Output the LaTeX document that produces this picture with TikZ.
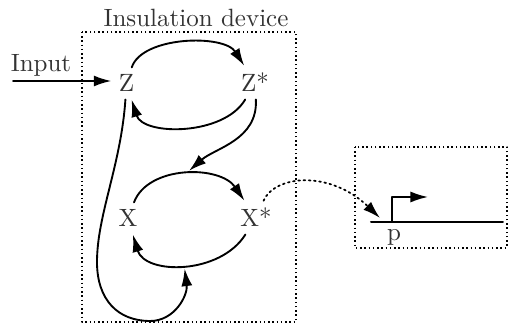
\documentclass[tikz,border=0pt]{standalone}
\usepackage{tikz}
\usetikzlibrary{arrows.meta,positioning}
\definecolor{ink}{HTML}{333333}
\tikzset{
    every picture/.style={line cap=round,line join=round},
    species/.style={text=ink,inner sep=2.5pt,outer sep=0.5pt},
    tag/.style={text=ink,inner sep=0pt},
    flowarrow/.style={-{Latex[length=7pt,width=4.4pt]},draw=black,line width=0.75pt},
    regionbox/.style={draw=black,line width=0.6pt,dash pattern=on 0.6pt off 1.1pt,line cap=butt},
    linkarrow/.style={-{Latex[length=7pt,width=4.4pt]},draw=black,line width=0.7pt,
      dash pattern=on 0.7pt off 1.4pt}
}
\begin{document}
\begin{tikzpicture}[x=0.4pt,y=-0.4pt]
  \useasboundingbox (0,0) rectangle (509,325);
  % boxes
  \draw[regionbox] (82,32) rectangle (296,322);
  \draw[regionbox] (355,147) rectangle (507,248);
  \node[tag,anchor=base] (title) at (196,27) {Insulation device};
  % species
  \node[species,anchor=base] (Z) at (126.5,92) {Z};
  \node[species,anchor=base] (Zs) at (255,92) {Z*};
  \node[species,anchor=base] (X) at (128,227) {X};
  \node[species,anchor=base] (Xs) at (256,227) {X*};
  % input
  \node[tag,anchor=base] (input) at (41,72) {Input};
  \coordinate (instart) at (13,81);
  \draw[flowarrow] (instart) -- (Z.west |- instart);
  % Z cycle
  \draw[flowarrow] (Z) .. controls (142,36) and (224,34) .. (Zs);
  \draw[flowarrow] (Zs) .. controls (224,136) and (143,136) .. (Z);
  % X cycle
  \draw[flowarrow] (X) .. controls (148,165) and (220,165) .. coordinate[pos=0.5] (xtop) (Xs);
  \draw[flowarrow] (Xs) .. controls (220,275) and (145,275) .. coordinate[pos=0.5] (xbot) (X);
  % couplings
  \draw[flowarrow,shorten >=2pt] (Zs) .. controls (258,140) and (215,148) .. (xtop);
  \draw[flowarrow,shorten >=1.5pt] (Z) .. controls (121,165) and (97,215) .. (97,262)
    .. controls (97,300) and (118,321) .. (150,321)
    .. controls (175,321) and (188,295) .. (xbot);
  % output gene
  \coordinate (genestart) at (371,222);
  \coordinate (geneend) at (503,222);
  \coordinate (prom) at (392,222);
  \coordinate (promtip) at (428,197);
  \coordinate (target) at (380,218);
  \draw[line width=0.8pt] (genestart) -- (geneend);
  \draw[flowarrow] (prom) |- (promtip);
  \node[tag,anchor=base] (plabel) at (394,241) {p};
  \draw[linkarrow] (Xs) .. controls (275,175) and (330,170) .. (target);
\end{tikzpicture}
\end{document}
